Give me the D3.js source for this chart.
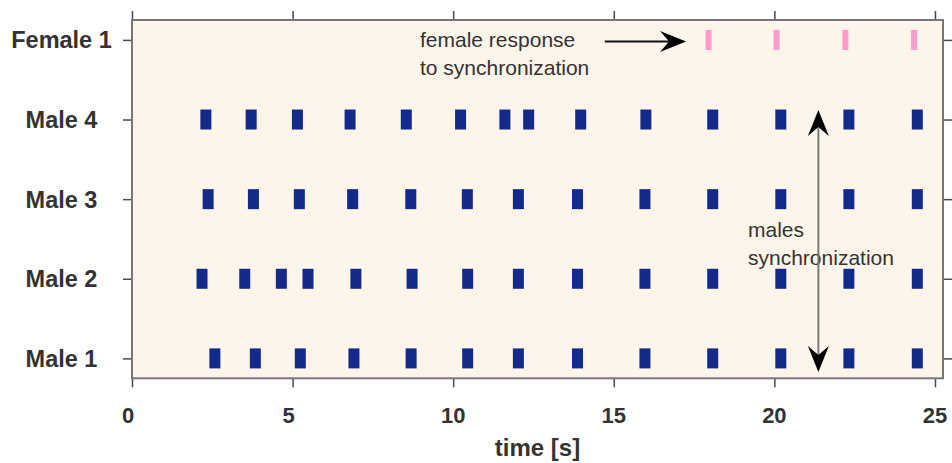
<!DOCTYPE html>
<html>
<head>
<meta charset="utf-8">
<script src="https://cdn.jsdelivr.net/npm/d3@7"></script>
<style>
  html, body { margin: 0; padding: 0; background: #ffffff; }
  svg { display: block; }
  text { font-family: "Liberation Sans", Arial, Helvetica, sans-serif; }
</style>
</head>
<body>
<svg id="chart" width="952" height="463"></svg>
<script>
// Row labels, bottom to top
const rows = ["Male 1", "Male 2", "Male 3", "Male 4", "Female 1"];

// Call onset times (s) for each individual
const male1 = [2.58, 3.84, 5.24, 6.91, 8.69, 10.45, 12.03, 13.87, 15.97, 18.08, 20.20, 22.32, 24.45];
const male2 = [2.18, 3.51, 4.65, 5.48, 6.97, 8.72, 10.45, 12.03, 13.87, 15.97, 18.08, 20.20, 22.32, 24.45];
const male3 = [2.37, 3.78, 5.21, 6.87, 8.68, 10.44, 12.03, 13.87, 15.97, 18.08, 20.20, 22.32, 24.45];
const male4 = [2.30, 3.71, 5.15, 6.79, 8.54, 10.23, 11.61, 12.35, 13.97, 16.00, 18.08, 20.20, 22.32, 24.45];
const female1 = [17.95, 20.07, 22.21, 24.35];

const xTicks = [0, 5, 10, 15, 20, 25];

const series = [
  { row: 0, times: male1, sex: "m" },
  { row: 1, times: male2, sex: "m" },
  { row: 2, times: male3, sex: "m" },
  { row: 3, times: male4, sex: "m" },
  { row: 4, times: female1, sex: "f" }
];

const margin = { left: 132, right: 9, top: 20, bottom: 85 };
const W = 952, H = 463;
const svg = d3.select("#chart");

const x = d3.scaleLinear().domain([0, 25.25]).range([margin.left, W - margin.right]);
const y = d3.scaleLinear().domain([-0.25, 4.25]).range([H - margin.bottom + 0.3, margin.top]);

const frameColor = "#777777";
const tickColor = "#4a4a4a";
const textColor = "#333333";

// Plot background
svg.append("rect")
  .attr("x", x(0)).attr("y", y(4.25))
  .attr("width", x(25.25) - x(0)).attr("height", y(-0.25) - y(4.25))
  .attr("fill", "#fdf4ea");

// Tick marks on all four sides
function styleAxis(g) {
  g.select(".domain").remove();
  g.selectAll(".tick line").attr("stroke", tickColor).attr("stroke-width", 1.5);
}
svg.append("g").attr("transform", `translate(0,${y(-0.25)})`)
  .call(d3.axisBottom(x).tickValues(xTicks).tickSize(9).tickFormat(""))
  .call(styleAxis);
svg.append("g").attr("transform", `translate(0,${y(4.25)})`)
  .call(d3.axisTop(x).tickValues(xTicks).tickSize(9).tickFormat(""))
  .call(styleAxis);
svg.append("g").attr("transform", `translate(${x(0)},0)`)
  .call(d3.axisLeft(y).tickValues(d3.range(rows.length)).tickSize(9).tickFormat(""))
  .call(styleAxis);
svg.append("g").attr("transform", `translate(${x(25.25)},0)`)
  .call(d3.axisRight(y).tickValues(d3.range(rows.length)).tickSize(9).tickFormat(""))
  .call(styleAxis);

// X tick labels
svg.append("g").selectAll("text").data(xTicks).join("text")
  .attr("x", d => x(d) - (d < 10 ? 4 : 0))
  .attr("y", 423)
  .attr("text-anchor", "middle")
  .attr("font-size", 22).attr("font-weight", "bold")
  .attr("fill", textColor)
  .text(d => d);

// Row labels
svg.append("g").selectAll("text").data(rows).join("text")
  .attr("x", 61.5)
  .attr("y", (d, i) => y(i) + 8.5)
  .attr("text-anchor", "middle")
  .attr("font-size", 23.5).attr("font-weight", "bold")
  .attr("fill", textColor)
  .text(d => d);

// Axis title
svg.append("text")
  .attr("x", (x(0) + x(25.25)) / 2).attr("y", 456)
  .attr("text-anchor", "middle")
  .attr("font-size", 24).attr("font-weight", "bold")
  .attr("fill", textColor)
  .text("time [s]");

// Call marks
const markH = 20;
const marks = svg.append("g");
series.forEach(s => {
  const w = s.sex === "m" ? 11 : 6;
  marks.selectAll(null).data(s.times).join("rect")
    .attr("x", t => x(t) - w / 2)
    .attr("y", y(s.row) - markH / 2)
    .attr("width", w).attr("height", markH)
    .attr("fill", s.sex === "m" ? "#142a8b" : "#ff9ccc");
});

// Frame
svg.append("rect")
  .attr("x", x(0)).attr("y", y(4.25))
  .attr("width", x(25.25) - x(0)).attr("height", y(-0.25) - y(4.25))
  .attr("fill", "none").attr("stroke", frameColor).attr("stroke-width", 2);

// Annotation texts
const notes = svg.append("g").attr("font-size", 21).attr("fill", textColor);
notes.append("text").attr("x", 420).attr("y", 47).text("female response");
notes.append("text").attr("x", 420).attr("y", 75).text("to synchronization");
notes.append("text").attr("x", 748).attr("y", 237).text("males");
notes.append("text").attr("x", 748).attr("y", 265).text("synchronization");

// Arrowhead shape: tip at origin, pointing along +x
function headPath(len, half, notch) {
  const p = d3.path();
  p.moveTo(0, 0);
  p.lineTo(-len, -half);
  p.lineTo(-len + notch, 0);
  p.lineTo(-len, half);
  p.closePath();
  return p.toString();
}
const head = headPath(26, 10.5, 9);

// Horizontal arrow to the female calls
const hx1 = x(14.72), hx2 = x(17.25), hy = y(4) + 1.7;
svg.append("line").attr("x1", hx1).attr("y1", hy).attr("x2", hx2 - 12).attr("y2", hy)
  .attr("stroke", "#111").attr("stroke-width", 2);
svg.append("path").attr("d", head)
  .attr("transform", `translate(${hx2},${hy})`).attr("fill", "#000");

// Double-headed vertical arrow spanning the male rows
const vx = x(21.37), vy1 = y(3) - 9.5, vy2 = y(0) + 13.7;
svg.append("line").attr("x1", vx).attr("y1", vy1 + 12).attr("x2", vx).attr("y2", vy2 - 12)
  .attr("stroke", "#7a7a7a").attr("stroke-width", 2);
svg.append("path").attr("d", head)
  .attr("transform", `translate(${vx},${vy1}) rotate(-90)`).attr("fill", "#000");
svg.append("path").attr("d", head)
  .attr("transform", `translate(${vx},${vy2}) rotate(90)`).attr("fill", "#000");
</script>
</body>
</html>
